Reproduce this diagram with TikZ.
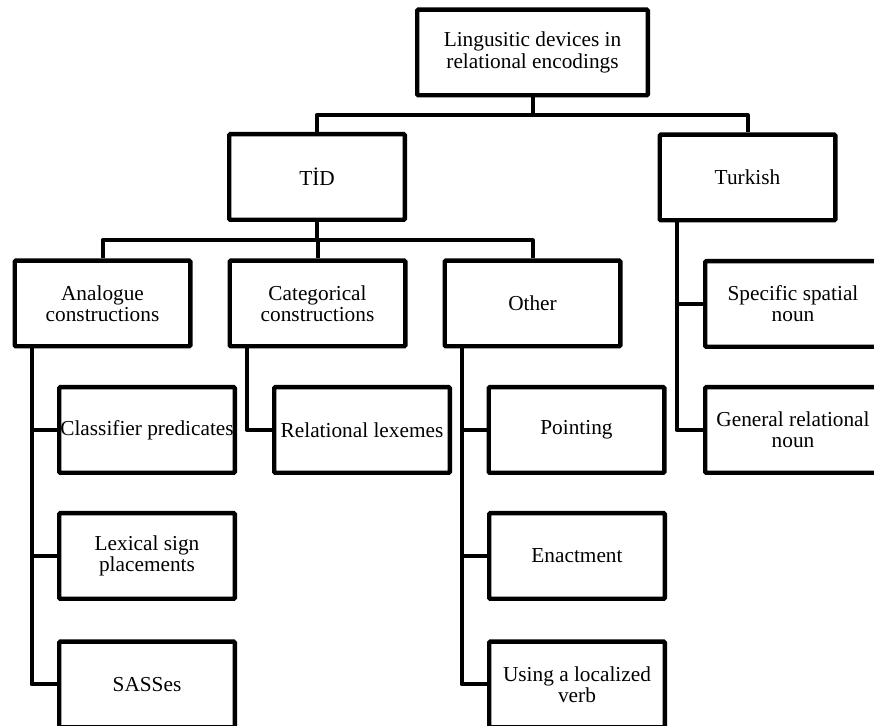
\documentclass[tikz,border=0pt]{standalone}
\usepackage{fontspec}
\setmainfont{Liberation Serif}
\usetikzlibrary{calc}

\tikzset{
  box/.style={draw, line width=2.2pt, rounded corners=0.6pt,
    minimum width=87.8pt, minimum height=42.8pt, inner xsep=0.3pt,
    align=center, font=\fontsize{10.65pt}{10.6pt}\selectfont},
  link/.style={line width=2pt, line join=round},
  elbow/.style={to path={|- ($(\tikztostart)!0.5!(\tikztotarget)$) -| (\tikztotarget)}},
}

\begin{document}
\begin{tikzpicture}[x=0.5pt, y=-0.5pt]
  \useasboundingbox (0,0) rectangle (874,726);
  % top levels
  \node[box, minimum width=115.3pt] (root) at (532.5,52.5) {Lingusitic devices in\\relational encodings};
  \node[box] (tid) at (317,177) {TİD};
  \node[box] (turk) at (747.5,177.5) {Turkish};
  \node[box] (analog) at (102.5,303.5) {Analogue\\constructions};
  \node[box] (categ) at (317.5,303.5) {Categorical\\constructions};
  \node[box] (other) at (532.5,303.5) {Other};
  \node[box] (spatial) at (793,304) {Specific spatial\\noun};
  % leaves
  \node[box] (classif) at (147,430) {Classifier predicates};
  \node[box] (lexeme) at (362,430) {Relational lexemes};
  \node[box] (point) at (576.5,430) {Pointing};
  \node[box] (general) at (793,430) {General relational\\noun};
  \node[box] (lexical) at (147,556) {Lexical sign\\placements};
  \node[box] (enact) at (577,556) {Enactment};
  \node[box] (sass) at (147,684.5) {SASSes};
  \node[box] (locverb) at (577,684.5) {Using a localized\\verb};
  % connectors
  \foreach \c in {tid, turk}
    \draw[link] (root.south) to[elbow] (\c.north);
  \foreach \c in {analog, categ, other}
    \draw[link] (tid.south) to[elbow] (\c.north);
  \foreach \p/\c in {analog/classif, analog/lexical, analog/sass, categ/lexeme,
      other/point, other/enact, other/locverb, turk/spatial, turk/general}
    \draw[link] ($(\p.south west)+(19,0)$) |- (\c.west);
\end{tikzpicture}
\end{document}
